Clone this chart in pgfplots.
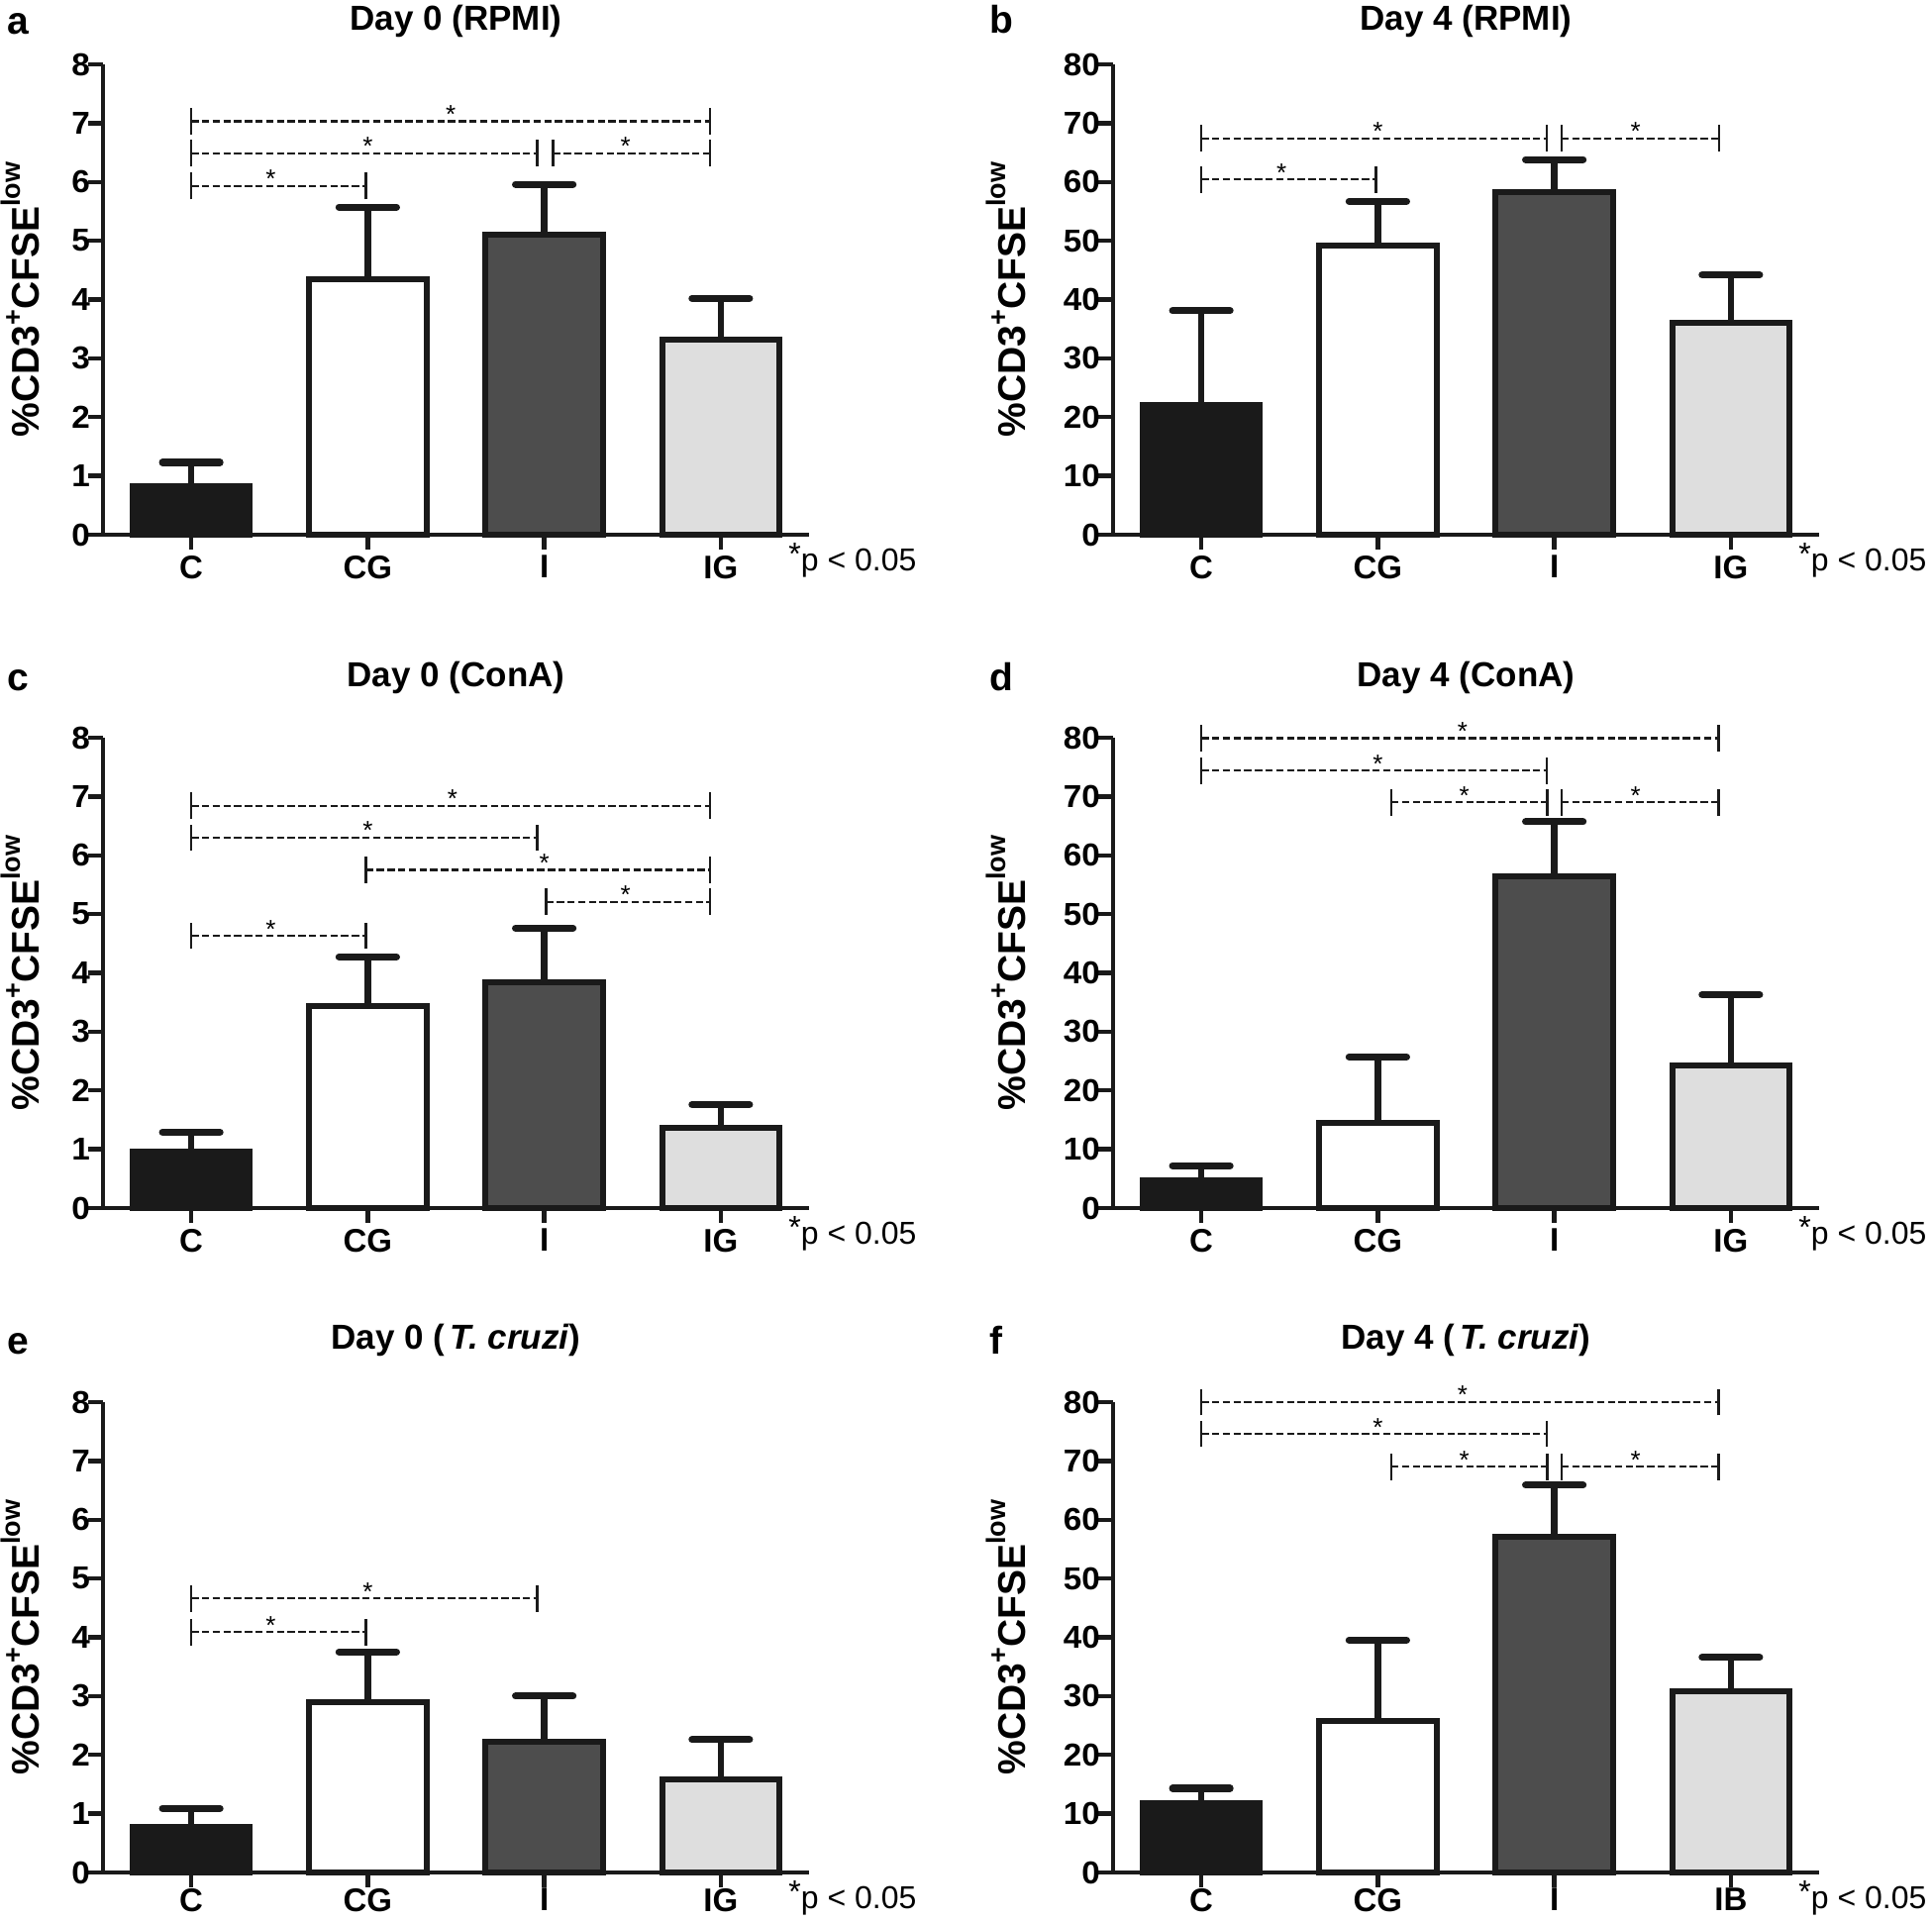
\documentclass[border=0pt]{standalone}
\usepackage{pgfplots}
\pgfplotsset{compat=1.18}
\usepackage{fontspec}
\setmainfont{Liberation Sans}
\newfontfamily\tickf[FakeStretch=1.04]{Liberation Sans}

\definecolor{ink}{HTML}{1A1A1A}
\definecolor{fillC}{HTML}{1A1A1A}
\definecolor{fillI}{HTML}{4D4D4D}
\definecolor{fillIG}{HTML}{DEDEDE}

\tikzset{
  sigline/.style={dash pattern=on 3.7pt off 1.7pt, line width=1.1pt, ink},
  sigtick/.style={line width=1.1pt, ink},
  sigstar/.style={anchor=base, inner sep=0pt, yshift=-1pt, font=\fontsize{13}{13}\selectfont},
  pnote/.style={anchor=base west, inner sep=0pt, xshift=-10.5pt, yshift=-18.5pt, font=\fontsize{16}{16}\selectfont},
  letter/.style={anchor=base west, inner sep=0pt, font=\bfseries\fontsize{19.5}{19.5}\selectfont},
}

% bracket: from x1 to x2 at height y, star at xs
\newcommand{\sig}[4]{%
  \draw[sigline] (axis cs:#1,#3) -- (axis cs:#2,#3);
  \draw[sigtick] (axis cs:#1,#3) ++(0pt,-6.7pt) -- ++(0pt,13.4pt);
  \draw[sigtick] (axis cs:#2,#3) ++(0pt,-6.7pt) -- ++(0pt,13.4pt);
  \node[sigstar] at (axis cs:#4,#3) {*};
}
\newcommand{\pnote}{\node[pnote] at (axis description cs:1,0) {\raisebox{3pt}{*}p < 0.05};}

\pgfplotsset{
  panel/.style={
    scale only axis, width=356.5pt, height=237.5pt,
    xmin=-0.5, xmax=3.5, ymin=0, enlargelimits=false,
    axis x line=bottom, axis y line=left,
    axis line style={-, line width=2.2pt, ink},
    ybar, bar shift=0pt, bar width=0.665,
    xtick={0,1,2,3}, xticklabels={C,CG,I,IG},
    tick align=outside, major tick length=7.5pt,
    tick style={line width=2.2pt, ink},
    xticklabel style={font=\bfseries\fontsize{16.5}{16.5}\selectfont, yshift=0.5pt},
    yticklabel style={font=\tickf\bfseries\fontsize{16}{16}\selectfont, xshift=4.5pt},
    /pgf/number format/assume math mode=true,
    title style={at={(axis description cs:0.5,1)}, anchor=base,
      font=\bfseries\fontsize{17.5}{17.5}\selectfont},
    ylabel={\%CD3\raisebox{0.45em}{\fontsize{13.5}{13.5}\selectfont +}CFSE\raisebox{0.5em}{\fontsize{13.5}{13.5}\selectfont low}},
    clip=false,
  },
  leftpanel/.style={panel, ymax=8, ytick={0,1,...,8},
    every axis y label/.style={at={([xshift=-32pt]axis description cs:0,0.5)},
      anchor=base, rotate=90, font=\bfseries\fontsize{19.5}{19.5}\selectfont}},
  rightpanel/.style={panel, ymax=80, ytick={0,10,...,80},
    every axis y label/.style={at={([xshift=-44.5pt]axis description cs:0,0.5)},
      anchor=base, rotate=90, font=\bfseries\fontsize{19.5}{19.5}\selectfont}},
  ebar/.style={error bars/.cd, y dir=plus, y explicit, error mark=|,
    error bar style={line width=3.3pt, ink, solid},
    error mark options={line width=3.6pt, ink, mark size=14.5pt, line cap=round}},
  barC/.style={fill=fillC, draw=ink, line width=3pt, ebar},
  barCG/.style={fill=white, draw=ink, line width=3pt, ebar},
  barI/.style={fill=fillI, draw=ink, line width=3pt, ebar},
  barIG/.style={fill=fillIG, draw=ink, line width=3pt, ebar},
}

\begin{document}
\begin{tikzpicture}
\useasboundingbox (0,0) rectangle (975.5pt,970pt);

% a
\begin{axis}[leftpanel, at={(52pt,700pt)}, anchor=south west,
  title={Day 0 (RPMI)}, title style={yshift=11pt}]
\addplot[barC]  coordinates {(0,0.83) +- (0,0.40)};
\addplot[barCG] coordinates {(1,4.35) +- (0,1.22)};
\addplot[barI]  coordinates {(2,5.10) +- (0,0.86)};
\addplot[barIG] coordinates {(3,3.32) +- (0,0.70)};
\sig{0}{2.94}{7.03}{1.47}
\sig{0}{1.96}{6.49}{1.0}
\sig{2.05}{2.94}{6.49}{2.46}
\sig{0}{0.99}{5.93}{0.45}
\pnote
\end{axis}

% b
\begin{axis}[rightpanel, at={(562pt,700pt)}, anchor=south west,
  title={Day 4 (RPMI)}, title style={yshift=11pt}]
\addplot[barC]  coordinates {(0,22.0) +- (0,16.1)};
\addplot[barCG] coordinates {(1,49.1) +- (0,7.6)};
\addplot[barI]  coordinates {(2,58.2) +- (0,5.6)};
\addplot[barIG] coordinates {(3,36.1) +- (0,8.1)};
\sig{0}{1.955}{67.4}{1.0}
\sig{2.04}{2.934}{67.4}{2.46}
\sig{0}{0.99}{60.4}{0.455}
\pnote
\end{axis}

% c
\begin{axis}[leftpanel, at={(52pt,360pt)}, anchor=south west,
  title={Day 0 (ConA)}, title style={yshift=19.5pt}]
\addplot[barC]  coordinates {(0,0.96) +- (0,0.33)};
\addplot[barCG] coordinates {(1,3.44) +- (0,0.83)};
\addplot[barI]  coordinates {(2,3.84) +- (0,0.92)};
\addplot[barIG] coordinates {(3,1.36) +- (0,0.40)};
\sig{0}{2.94}{6.84}{1.48}
\sig{0}{1.96}{6.30}{1.0}
\sig{0.99}{2.94}{5.75}{2.0}
\sig{2.01}{2.94}{5.21}{2.46}
\sig{0}{0.99}{4.63}{0.45}
\pnote
\end{axis}

% d
\begin{axis}[rightpanel, at={(562pt,360pt)}, anchor=south west,
  title={Day 4 (ConA)}, title style={yshift=19.5pt}]
\addplot[barC]  coordinates {(0,4.7) +- (0,2.5)};
\addplot[barCG] coordinates {(1,14.5) +- (0,11.2)};
\addplot[barI]  coordinates {(2,56.4) +- (0,9.3)};
\addplot[barIG] coordinates {(3,24.3) +- (0,12.0)};
\sig{0}{2.93}{79.9}{1.48}
\sig{0}{1.955}{74.4}{1.0}
\sig{1.076}{1.96}{69.0}{1.49}
\sig{2.04}{2.93}{69.0}{2.46}
\pnote
\end{axis}

% e
\begin{axis}[leftpanel, at={(52pt,24.5pt)}, anchor=south west,
  xticklabel style={yshift=2.5pt},
  title={Day 0 (\hspace{0.15em}\textit{T. cruzi})}, title style={yshift=20.5pt}]
\addplot[barC]  coordinates {(0,0.78) +- (0,0.31)};
\addplot[barCG] coordinates {(1,2.89) +- (0,0.86)};
\addplot[barI]  coordinates {(2,2.23) +- (0,0.77)};
\addplot[barIG] coordinates {(3,1.58) +- (0,0.68)};
\sig{0}{1.96}{4.66}{1.0}
\sig{0}{0.99}{4.09}{0.45}
\pnote
\end{axis}

% f
\begin{axis}[rightpanel, at={(562pt,24.5pt)}, anchor=south west,
  xticklabels={C,CG,I,IB}, xticklabel style={yshift=2.5pt},
  title={Day 4 (\hspace{0.15em}\textit{T. cruzi})}, title style={yshift=20.5pt}]
\addplot[barC]  coordinates {(0,11.8) +- (0,2.5)};
\addplot[barCG] coordinates {(1,25.7) +- (0,13.8)};
\addplot[barI]  coordinates {(2,57.1) +- (0,8.8)};
\addplot[barIG] coordinates {(3,30.9) +- (0,5.7)};
\sig{0}{2.93}{80.0}{1.48}
\sig{0}{1.955}{74.6}{1.0}
\sig{1.076}{1.96}{69.0}{1.49}
\sig{2.04}{2.93}{69.0}{2.46}
\pnote
\end{axis}

\node[letter] at (3.5pt,952.5pt) {a};
\node[letter] at (499.5pt,953pt) {b};
\node[letter] at (3.5pt,621pt) {c};
\node[letter] at (499.5pt,621pt) {d};
\node[letter] at (3.5pt,286pt) {e};
\node[letter] at (499.5pt,286pt) {f};
\end{tikzpicture}
\end{document}
